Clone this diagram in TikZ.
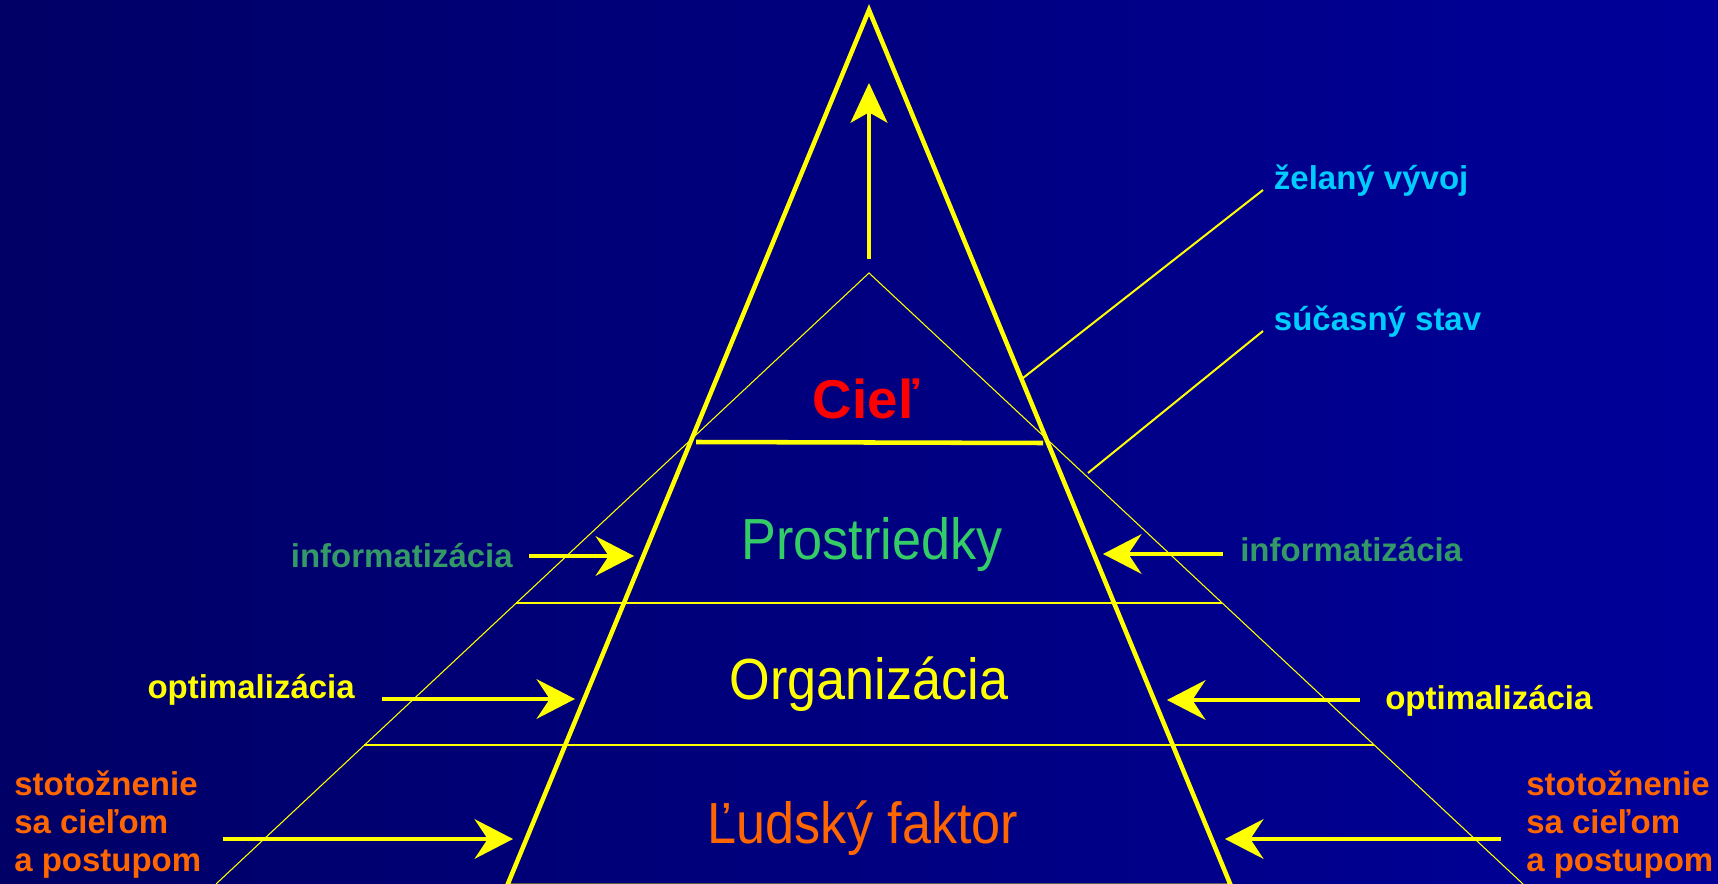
\documentclass[tikz,border=0pt]{standalone}
\usepackage{fontspec}
\setmainfont{Liberation Sans}
\newfontfamily\narrowsans[FakeStretch=0.9]{Liberation Sans}
\usepackage{tikz}
\usetikzlibrary{arrows.meta}

\definecolor{bgleft}{RGB}{0,0,102}
\definecolor{bgright}{RGB}{0,0,153}
\definecolor{lineyellow}{RGB}{255,255,0}
\definecolor{goalred}{RGB}{255,0,0}
\definecolor{meansgreen}{RGB}{51,204,102}
\definecolor{infogreen}{RGB}{51,153,102}
\definecolor{humanorange}{RGB}{255,102,0}
\definecolor{statecyan}{RGB}{0,204,255}

\begin{document}
\begin{tikzpicture}[x=0.75pt,y=0.75pt,yscale=-1,xscale=1,
  sidelabel/.style={font=\fontsize{24.75}{28.5}\selectfont\bfseries, inner sep=0pt},
  layertext/.style={font=\narrowsans\fontsize{43.5}{52}\selectfont, inner sep=0pt, anchor=base},
  pointer/.style={line width=3.4, color=lineyellow, -{Stealth[length=29pt,width=30pt,inset=10pt,line width=0pt]}},
  leader/.style={line width=1.5, color=lineyellow},
  divider/.style={line width=0.9, color=lineyellow}]
%set diagram left start at 0, and has height of 884
\useasboundingbox (0,0) rectangle (1718,884);
\shade [left color=bgleft, right color=bgright] (0,0) rectangle (1718,884);

%Outer thin triangle (current state)
\draw [line width=0.8, color=lineyellow]    (216,884) -- (869,273) -- (1523,884) ;
%Dividers between layers
\draw [divider]    (516,603) -- (1222,603) ;
\draw [divider]    (364,745) -- (1374,745) ;

%Inner thick triangle (desired state)
\draw [line width=3.4, color=lineyellow]    (507,886) -- (869,10) -- (1231,886) -- cycle ;
%Goal base
\draw [line width=3.4, color=lineyellow]    (696,442) -- (1043,443) ;

%Growth arrow
\coordinate (goalTail) at (869,259);
\coordinate (goalTip) at (869,83);
\draw [line width=3.4, color=lineyellow, -{Stealth[length=30pt,width=28pt,inset=8pt,line width=0pt]}]    (goalTail) -- (goalTip) ;

% Text Node
\draw (866,418) node [anchor=base, inner sep=0pt, font=\fontsize{41}{48}\selectfont\bfseries, text=goalred] (ciel) {Cieľ};
% Text Node
\draw (872,559) node [layertext, text=meansgreen] (prostriedky) {Prostriedky};
% Text Node
\draw (869,699) node [layertext, text=lineyellow] (organizacia) {Organizácia};
% Text Node
\draw (863,843) node [layertext, text=humanorange] (ludsky) {Ľudský faktor};

% Text Node
\draw (1263,190) node [sidelabel, anchor=base west, inner xsep=8pt, text=statecyan] (zelany) {želaný vývoj};
% Text Node
\draw (1263,331) node [sidelabel, anchor=base west, inner xsep=8pt, text=statecyan] (sucasny) {súčasný stav};

%Leader lines
\coordinate (zelanyFoot) at (1023,378);
\coordinate (sucasnyFoot) at (1088,473);
\draw [leader]    (zelanyFoot) -- (zelany.base west) ;
\draw [leader]    (sucasnyFoot) -- (sucasny.base west) ;

% Text Node
\draw (513,567) node [sidelabel, anchor=base east, text=infogreen] (infoL) {informatizácia};
% Text Node
\draw (1240,561) node [sidelabel, anchor=base west, text=infogreen] (infoR) {informatizácia};
% Text Node
\draw (355,698) node [sidelabel, anchor=base east, text=lineyellow] (optimL) {optimalizácia};
% Text Node
\draw (1385,709) node [sidelabel, anchor=base west, text=lineyellow] (optimR) {optimalizácia};
% Text Node
\draw (14,771) node [sidelabel, anchor=north west, align=left, text=humanorange] (stotL) {stotožnenie\\sa cieľom\\a postupom};
% Text Node
\draw (1526,771) node [sidelabel, anchor=north west, align=left, text=humanorange] (stotR) {stotožnenie\\sa cieľom\\a postupom};

%Straight Lines
\coordinate (infoLtail) at (529,556);
\coordinate (infoLtip) at (634,556);
\draw [pointer]    (infoLtail) -- (infoLtip) ;
\coordinate (infoRtail) at (1223,554);
\coordinate (infoRtip) at (1103,554);
\draw [pointer]    (infoRtail) -- (infoRtip) ;

%Straight Lines
\coordinate (optimLtail) at (382,699);
\coordinate (optimLtip) at (575,699);
\draw [pointer]    (optimLtail) -- (optimLtip) ;
\coordinate (optimRtail) at (1360,700);
\coordinate (optimRtip) at (1167,700);
\draw [pointer]    (optimRtail) -- (optimRtip) ;

%Straight Lines
\coordinate (stotLtail) at (223,839);
\coordinate (stotLtip) at (513,839);
\draw [pointer]    (stotLtail) -- (stotLtip) ;
\coordinate (stotRtail) at (1501,839);
\coordinate (stotRtip) at (1225,839);
\draw [pointer]    (stotRtail) -- (stotRtip) ;

\end{tikzpicture}
\end{document}
